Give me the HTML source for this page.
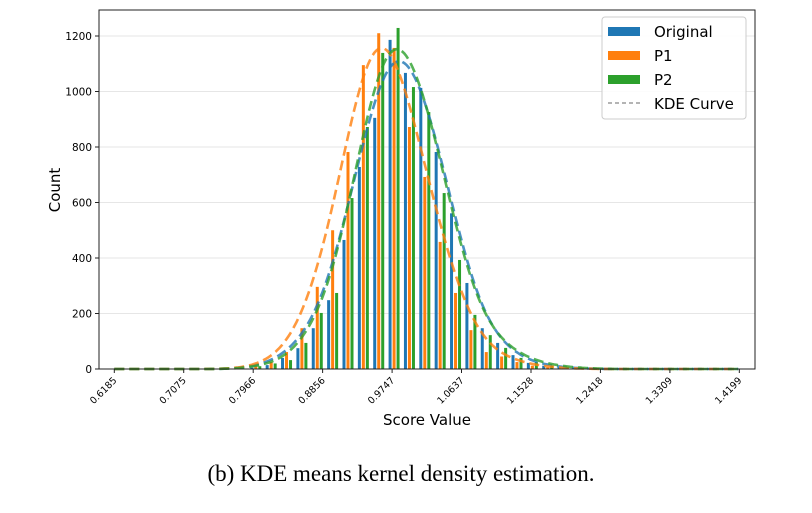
<!DOCTYPE html>
<html><head><meta charset="utf-8"><style>
body{margin:0;background:#fff;}
svg text{font-family:"DejaVu Sans","Liberation Sans",sans-serif;}
</style></head><body>
<svg id="chart" width="812" height="508" xmlns="http://www.w3.org/2000/svg">
<g id="grid"></g>
<g id="bars"></g>
<g id="curves"></g>
<rect x="99" y="10" width="656" height="359" fill="none" stroke="#222" stroke-width="1"/>
<g id="axes"></g>
<text x="427" y="425" font-size="15" text-anchor="middle">Score Value</text>
<text x="60" y="190" font-size="15" text-anchor="middle" transform="rotate(-90 60 190)">Count</text>
<g>
<rect x="602" y="17" width="144" height="102" rx="3" fill="#fff" fill-opacity="0.85" stroke="#ccc"/>
<rect x="608" y="27" width="32" height="9" fill="#1f77b4"/>
<text x="654" y="37" font-size="15">Original</text>
<rect x="608" y="51" width="32" height="9" fill="#ff7f0e"/>
<text x="654" y="61" font-size="15">P1</text>
<rect x="608" y="75" width="32" height="9" fill="#2ca02c"/>
<text x="654" y="85" font-size="15">P2</text>
<line x1="608" y1="103" x2="640" y2="103" stroke="#888" stroke-width="1.3" stroke-dasharray="4,3"/>
<text x="654" y="109" font-size="15">KDE Curve</text>
</g>
<text x="401" y="481" font-size="23" text-anchor="middle" style="font-family:'Liberation Serif',serif">(b) KDE means kernel density estimation.</text>
</svg>
<script>
const xTicks = [0.6185,0.7075,0.7966,0.8856,0.9747,1.0637,1.1528,1.2418,1.3309,1.4199];
const yTicks = [0,200,400,600,800,1000,1200];
const binStart = 0.6185;
const binWidth = 0.0197;
const firstBin = 8;
const original = [5,14,40,75,147,248,465,728,905,1186,1067,1013,782,561,310,147,94,50,22,12,6,3];
const p1 = [10,25,61,147,296,500,782,1095,1210,1157,872,692,458,274,140,61,45,25,12,6,3,1];
const p2 = [10,20,32,94,202,274,616,872,1139,1229,1016,926,634,393,195,122,76,40,25,12,6,3];
const NS='http://www.w3.org/2000/svg';
const X0=114.3, PXU=779.9, Y0=369, PYU=0.2775;
const xs=v=>X0+(v-0.6185)*PXU;
const ys=v=>Y0-v*PYU;
function mk(tag,attrs,parent){const e=document.createElementNS(NS,tag);for(const k in attrs)e.setAttribute(k,attrs[k]);parent.appendChild(e);return e;}
const grid=document.getElementById('grid'),axes=document.getElementById('axes'),bars=document.getElementById('bars'),curves=document.getElementById('curves');
yTicks.forEach(t=>{
  const y=ys(t);
  const g=mk('line',{x1:99,x2:755,y1:y,y2:y,stroke:'#e6e6e6','stroke-width':1},grid);
  
  
  const tk=mk('line',{x1:95,x2:99,y1:y,y2:y,stroke:'#222'},axes);
  
  
  const tx=mk('text',{x:92,y:y+4,'font-size':10.5,'text-anchor':'end'},axes);
  tx.textContent=t;
  
  
});
xTicks.forEach(t=>{
  const x=xs(t);
  const tk=mk('line',{x1:x,x2:x,y1:369,y2:373,stroke:'#222'},axes);
  
  
  const tx=mk('text',{x:x+3,y:381,'font-size':9.5,'text-anchor':'end',transform:`rotate(-45 ${x+3} 381)`},axes);
  tx.textContent=t.toFixed(4);
  
  
});
const series=[[original,'#1f77b4',0,'original'],[p1,'#ff7f0e',4,'p1'],[p2,'#2ca02c',8,'p2']];
const binPx=binWidth*PXU;
function barX(i,off){return xs(binStart+(firstBin+i+0.95)*binWidth)+off;}
series.forEach(([data,col,off,name])=>{
  data.forEach((v,i)=>{
    const x=barX(i,off);
    const r=mk('rect',{x:x-1.5,y:ys(v),width:3,height:v*PYU,fill:col},bars);
    
    
  });
});
const kdeScale=1.08;
series.forEach(([data,col,off,name])=>{
  const h=binPx*1.3;
  const pts=[];
  for(let px=xs(0.6185);px<=xs(1.4199)+0.1;px+=2){
    let s=0;
    data.forEach((v,i)=>{const d=(px-barX(i,off))/h;s+=v*Math.exp(-0.5*d*d)*binPx/(h*Math.sqrt(2*Math.PI));});
    s*=kdeScale;
    pts.push(px.toFixed(1)+','+ys(s).toFixed(1));
  }
  const p=mk('polyline',{points:pts.join(' '),fill:'none',stroke:col,'stroke-width':2.6,'stroke-opacity':0.8,'stroke-dasharray':'10,5'},curves);
  
  
});
</script>
</body></html>
